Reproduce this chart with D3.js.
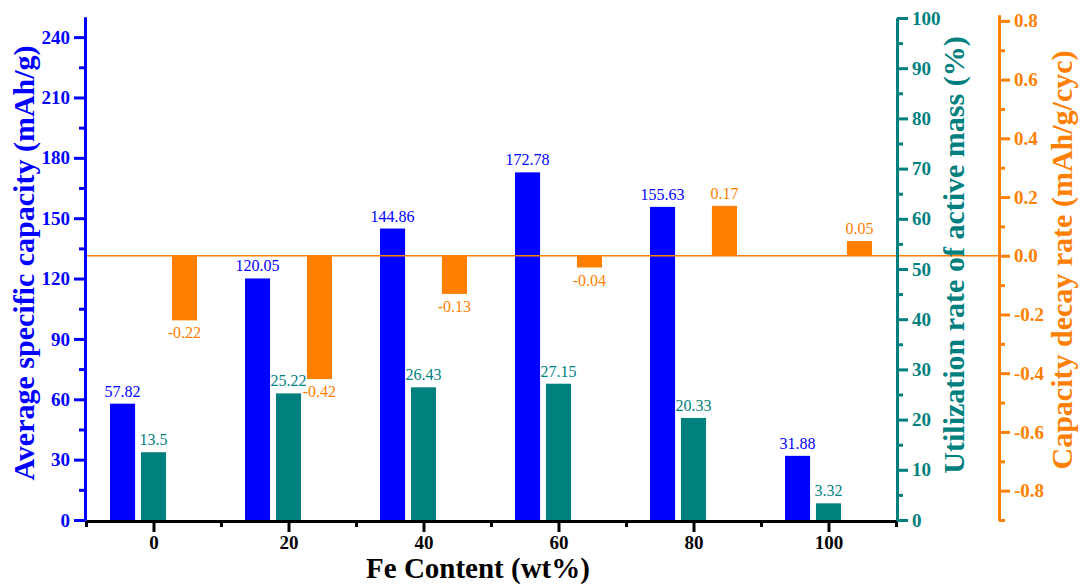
<!DOCTYPE html>
<html>
<head>
<meta charset="utf-8">
<script src="https://cdn.jsdelivr.net/npm/d3@7"></script>
<style>
  body { margin: 0; background: #fff; }
  text { font-family: "Liberation Serif", "Times New Roman", serif; }
</style>
</head>
<body>
<div id="chart"></div>
<script>
// data
var feContent = [0, 20, 40, 60, 80, 100];
var capacity = [57.82, 120.05, 144.86, 172.78, 155.63, 31.88];
var utilization = [13.5, 25.22, 26.43, 27.15, 20.33, 3.32];
var decayRate = [-0.22, -0.42, -0.13, -0.04, 0.17, 0.05];
var seriesNames = ['capacity', 'utilization', 'decay'];

var xTicks = [0, 20, 40, 60, 80, 100];
var xMinor = [-10, 10, 30, 50, 70, 90, 110];
var leftTicks = [0, 30, 60, 90, 120, 150, 180, 210, 240];
var leftMinor = [15, 45, 75, 105, 135, 165, 195, 225];
var tealTicks = [0, 10, 20, 30, 40, 50, 60, 70, 80, 90, 100];
var tealMinor = [5, 15, 25, 35, 45, 55, 65, 75, 85, 95];
var orangeTicks = [-0.8, -0.6, -0.4, -0.2, 0.0, 0.2, 0.4, 0.6, 0.8];
var orangeMinor = [-0.9, -0.7, -0.5, -0.3, -0.1, 0.1, 0.3, 0.5, 0.7];

var blue = '#0000FF', teal = '#007F7F', orange = '#FF8000';

var svgWidth = 1081, svgHeight = 584;
var svg = d3.select('#chart')
    .append('svg')
    .attr('width', svgWidth)
    .attr('height', svgHeight);

var x = d3.scaleLinear().domain([-10, 110]).range([86, 896]);
var yLeft = d3.scaleLinear().domain([0, 250]).range([520, 17]);
var yTeal = d3.scaleLinear().domain([0, 100]).range([520, 18]);
var yOrange = d3.scaleLinear().domain([-0.9, 0.82]).range([520, 15]);
var offset = d3.scaleBand().domain(seriesNames).range([-43.5, 43.5]).paddingInner(0.19);

// plain hyphen minus like the original figure
function hyphen(f) {
    return function(d) { return f(d).replace('\u2212', '-'); };
}

// bars
function bars(values, name, yScale, color, base) {
    svg.append('g').selectAll('rect')
        .data(values)
        .enter()
        .append('rect')
        .attr('x', function(d, i) { return x(feContent[i]) + offset(name); })
        .attr('width', offset.bandwidth())
        .attr('y', function(d) { return Math.min(yScale(d), yScale(base)); })
        .attr('height', function(d) { return Math.abs(yScale(d) - yScale(base)); })
        .attr('fill', color);
}
bars(capacity, 'capacity', yLeft, blue, 0);
bars(utilization, 'utilization', yTeal, teal, 0);
bars(decayRate, 'decay', yOrange, orange, 0);

// zero line of the decay axis
svg.append('line')
    .attr('x1', 85).attr('x2', 999)
    .attr('y1', yOrange(0)).attr('y2', yOrange(0))
    .attr('stroke', orange)
    .attr('stroke-width', 1.6);

// value labels
function labels(values, name, yScale, color, fmt) {
    svg.append('g').selectAll('text')
        .data(values)
        .enter()
        .append('text')
        .attr('x', function(d, i) { return x(feContent[i]) + offset(name) + offset.bandwidth() / 2; })
        .attr('y', function(d) { return d >= 0 ? yScale(d) - 7 : yScale(d) + 18; })
        .attr('text-anchor', 'middle')
        .attr('font-size', 16)
        .attr('fill', color)
        .text(fmt);
}
labels(capacity, 'capacity', yLeft, blue, function(d) { return d.toFixed(2); });
labels(utilization, 'utilization', yTeal, teal, function(d) { return String(d); });
labels(decayRate, 'decay', yOrange, orange, function(d) { return d.toFixed(2); });

// axes helper: minor ticks first, then major with labels
function drawAxis(axisFn, scale, major, minor, tx, ty, color, fmt) {
    var g = svg.append('g').attr('transform', 'translate(' + tx + ',' + ty + ')');
    g.append('g').call(axisFn(scale).tickValues(minor).tickSize(6).tickSizeOuter(0).tickFormat(''));
    g.append('g').call(axisFn(scale).tickValues(major).tickSize(11).tickSizeOuter(0).tickPadding(4).tickFormat(fmt));
    g.selectAll('path.domain').attr('stroke', color).attr('stroke-width', 3);
    g.selectAll('.tick line').attr('stroke', color).attr('stroke-width', 3);
    g.selectAll('.tick text')
        .attr('fill', color)
        .attr('font-family', '"Liberation Serif", serif')
        .attr('font-weight', 'bold')
        .attr('font-size', 19);
    return g;
}

drawAxis(d3.axisBottom, x, xTicks, xMinor, 0, 521, '#000', d3.format('d'));
drawAxis(d3.axisLeft, yLeft, leftTicks, leftMinor, 85, 0, blue, d3.format('d'));
drawAxis(d3.axisRight, yTeal, tealTicks, tealMinor, 897, 0, teal, d3.format('d'));
drawAxis(d3.axisRight, yOrange, orangeTicks, orangeMinor, 999, 0, orange, hyphen(d3.format('.1f')));

// axis titles
svg.append('text')
    .attr('x', 478).attr('y', 578)
    .attr('text-anchor', 'middle')
    .attr('font-weight', 'bold')
    .attr('font-size', 29)
    .text('Fe Content (wt%)');

function vTitle(txt, cx, cy, color) {
    svg.append('text')
        .attr('transform', 'translate(' + cx + ',' + cy + ') rotate(-90)')
        .attr('text-anchor', 'middle')
        .attr('font-weight', 'bold')
        .attr('font-size', 30)
        .attr('fill', color)
        .text(txt);
}
vTitle('Average specific capacity (mAh/g)', 34, 263, blue);
vTitle('Utilization rate of active mass (%)', 964, 255, teal);
vTitle('Capacity decay rate (mAh/g/cyc)', 1072, 260, orange);
</script>
</body>
</html>
